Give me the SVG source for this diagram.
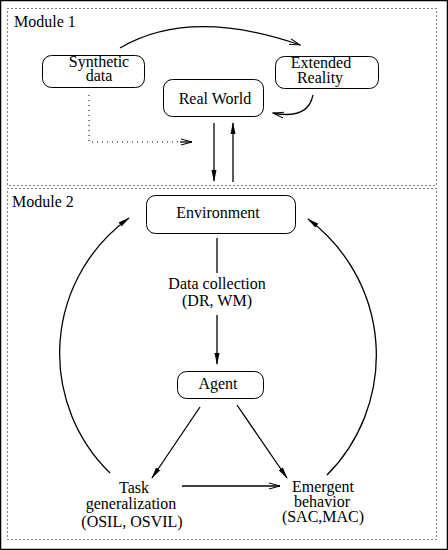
<svg xmlns="http://www.w3.org/2000/svg" width="448" height="550" viewBox="0 0 448 550">
<defs>
<style>
text{font-family:"Liberation Serif","Times New Roman",serif;font-size:16px;fill:#000;text-anchor:middle}
.lbl{text-anchor:start}
.box{fill:#fff;stroke:#000;stroke-width:1}
.mod{fill:none;stroke:#000;stroke-width:1;stroke-dasharray:1 3}
.c{fill:none;stroke:#000;stroke-width:1.3}
.f{marker-end:url(#filled)}
.o{marker-end:url(#open)}
</style>
<marker id="filled" viewBox="0 0 12 6" refX="11" refY="3" markerWidth="12" markerHeight="6" markerUnits="userSpaceOnUse" orient="auto">
<path d="M0,0.5 L12,3 L0,5.5 Z" fill="#000"/>
</marker>
<marker id="open" viewBox="0 0 12 8" refX="11" refY="4" markerWidth="12" markerHeight="8" markerUnits="userSpaceOnUse" orient="auto">
<path d="M0,1 L11,4 L0,7" fill="none" stroke="#000" stroke-width="1"/>
</marker>
</defs>
<rect x="0" y="0" width="448" height="550" fill="#fff"/>
<rect x="0.5" y="0.5" width="447" height="549" fill="none" stroke="#000" stroke-width="1.5"/>
<rect class="mod" x="7.5" y="8.5" width="429" height="177"/>
<rect class="mod" x="7.5" y="188.5" width="429" height="351"/>
<text class="lbl" x="14" y="27">Module 1</text>
<text class="lbl" x="12" y="207">Module 2</text>
<g id="connectors">
<path class="c o" d="M120,48 Q190,7 300,45"/>
<path class="c o" d="M313,95 Q308,120 273,113"/>
<path fill="none" stroke="#000" stroke-width="1" stroke-dasharray="1 4" d="M89,95 L89,142 L180,142"/>
<path class="c o" d="M180,142 L192,142"/>
<path class="c f" d="M214,123 L214,181"/>
<path class="c f" d="M233,182 L233,123"/>
<path class="c" d="M217,238 L217,273"/>
<path class="c f" d="M217,315 L217,364"/>
<path class="c f" d="M200,407 L152,478"/>
<path class="c f" d="M237,405 L287,478"/>
<path class="c o" d="M182,486 L280,486"/>
<path class="c f" d="M110,473 A167,167 0 0 1 129,218"/>
<path class="c f" d="M327,475 A170,170 0 0 0 308,219"/>
</g>
<g id="synthetic">
<rect class="box" x="42.5" y="55.5" width="102" height="32" rx="9"/>
<text x="99" y="67">Synthetic</text>
<text x="99" y="81">data</text>
</g>
<g id="extended">
<rect class="box" x="275.5" y="56.5" width="103" height="32" rx="9"/>
<text x="321" y="68">Extended</text>
<text x="320" y="83">Reality</text>
</g>
<g id="realworld">
<rect class="box" x="163.5" y="79.5" width="100" height="37" rx="9"/>
<text x="215" y="104">Real World</text>
</g>
<g id="environment">
<rect class="box" x="146.5" y="195.5" width="149" height="38" rx="9"/>
<text x="218" y="218">Environment</text>
</g>
<g id="datacollection">
<text x="217" y="289">Data collection</text>
<text x="217" y="306">(DR, WM)</text>
</g>
<g id="agent">
<rect class="box" x="177.5" y="371.5" width="86" height="27" rx="9"/>
<text x="218" y="389">Agent</text>
</g>
<g id="task">
<text x="134" y="493">Task</text>
<text x="131" y="509">generalization</text>
<text x="132" y="527">(OSIL, OSVIL)</text>
</g>
<g id="emergent">
<text x="323" y="492">Emergent</text>
<text x="322" y="507">behavior</text>
<text x="323" y="522">(SAC,MAC)</text>
</g>
</svg>
